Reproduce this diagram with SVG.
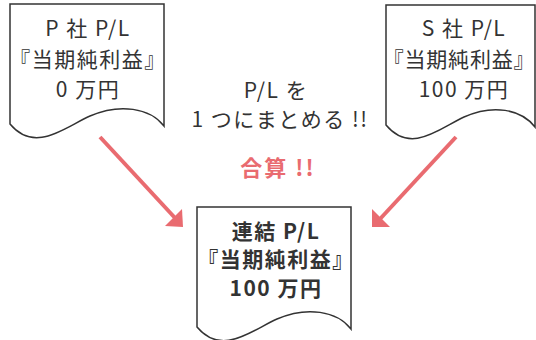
<svg xmlns="http://www.w3.org/2000/svg" width="536" height="340" viewBox="0 0 536 340">
<style>
.doc{fill:#fff;stroke:#333;stroke-width:1.5}
.t{font-family:"Noto Sans CJK JP","Noto Sans",sans-serif;font-size:21px;letter-spacing:1.5px;fill:#333;text-anchor:middle}
.b{font-weight:bold}
.red{fill:#e96b70}
.big{font-size:22px;letter-spacing:2px}
.tight{letter-spacing:0.8px}
.arr{stroke:#e96b70;stroke-width:4;fill:none}
</style>
<defs>
<path id="docshape" d="M0,0 H154 V122 C140,104 110,99 80,112 C55,123 25,150 0,120 Z"/>
</defs>
<rect width="536" height="340" fill="#fff"/>
<g id="p-pl">
<use href="#docshape" class="doc" transform="translate(10,4)"/>
<text class="t" x="88" y="36">P 社 P/L</text>
<text class="t" x="88" y="67">『当期純利益』</text>
<text class="t" x="88" y="97">0 万円</text>
</g>
<g id="s-pl">
<path class="doc" d="M386,5 H535 V127 C521,109 493,104 464,117 C440,128 411,155 386,125 Z"/>
<text class="t" x="464" y="36">S 社 P/L</text>
<text class="t tight" x="459" y="67">『当期純利益』</text>
<text class="t" x="464" y="97">100 万円</text>
</g>
<g id="consolidated-pl">
<use href="#docshape" class="doc" transform="translate(197,207)"/>
<text class="t b" x="276" y="239">連結 P/L</text>
<text class="t b" x="276" y="267">『当期純利益』</text>
<text class="t b" x="276" y="296">100 万円</text>
</g>
<g id="note">
<text class="t" x="276" y="98">P/L を</text>
<text class="t" x="280" y="127">1 つにまとめる !!</text>
<text class="t b red big" x="278" y="176">合算 !!</text>
</g>
<g id="connectors">
<line class="arr" x1="100" y1="137" x2="176" y2="219"/>
<polygon class="red" points="183,227 165,226 182,209"/>
<line class="arr" x1="456" y1="137" x2="380" y2="219"/>
<polygon class="red" points="372,227 372,209 390,227"/>
</g>
</svg>
